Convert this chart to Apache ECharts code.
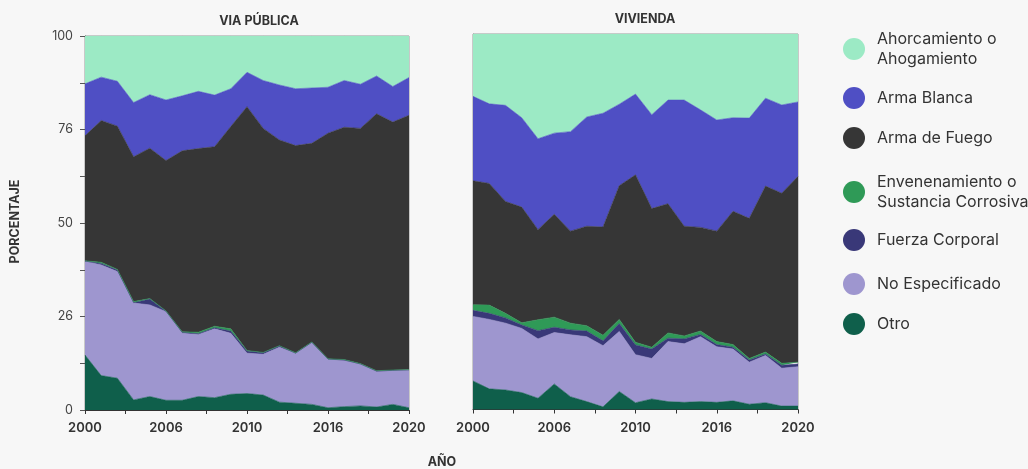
<!DOCTYPE html>
<html>
<head>
<meta charset="utf-8">
<script src="https://cdn.jsdelivr.net/npm/echarts@6/dist/echarts.min.js"></script>
<style>
html,body{margin:0;padding:0;background:#f7f7f7;}
#c{width:1028px;height:469px;}
</style>
</head>
<body>
<div id="c"></div>
<script>
// ---------- DATA ----------
var years = [2000,2001,2002,2003,2004,2005,2006,2007,2008,2009,2010,2011,2012,2013,2014,2015,2016,2017,2018,2019,2020];
var xTickLabels = ['2000','2006','2010','2016','2020'];
var yTickLabels = ['0','26','50','76','100'];
var panelTitles = ['VIA PÚBLICA','VIVIENDA'];
var seriesNames = ['Otro','No Especificado','Fuerza Corporal','Envenenamiento o Sustancia Corrosiva','Arma de Fuego','Arma Blanca','Ahorcamiento o Ahogamiento'];
var legendOrder = ['Ahorcamiento o Ahogamiento','Arma Blanca','Arma de Fuego','Envenenamiento o Sustancia Corrosiva','Fuerza Corporal','No Especificado','Otro'];

// VIA PÚBLICA (percent)
var viaOtro     = [14.7,9.2,8.5,2.7,3.6,2.6,2.6,3.6,3.3,4.2,4.4,4.0,2.1,1.8,1.5,0.6,0.9,1.1,0.8,1.5,0.6];
var viaNoEsp    = [25.1,29.6,28.5,25.9,24.5,23.7,17.9,16.6,18.4,16.3,10.8,10.9,14.7,13.3,16.5,12.9,12.3,11.1,9.5,9.0,10.0];
var viaFuerza   = [0.0,0.4,0.4,0.1,1.6,0.1,0.3,0.2,0.3,0.6,0.6,0.4,0.3,0.1,0.1,0.1,0.2,0.1,0.1,0.1,0.1];
var viaEnven    = [0.1,0.3,0.2,0.3,0.1,0.1,0.1,0.4,0.4,0.6,0.1,0.1,0.1,0.1,0.1,0.1,0.1,0.1,0.1,0.1,0.1];
var viaFuego    = [33.4,37.9,38.3,38.7,40.2,40.2,48.4,49.1,48.0,54.1,65.2,59.9,55.0,55.4,53.1,60.3,62.1,62.9,68.7,66.3,68.0];
var viaBlanca   = [13.9,11.6,12.0,14.5,14.3,16.2,14.7,15.3,13.8,10.1,9.2,12.8,14.7,15.2,14.8,12.3,12.5,11.8,10.1,9.5,10.1];
var viaAhorc    = [12.8,11.0,12.1,17.8,15.7,17.1,16.0,14.8,15.8,14.1,9.7,11.9,13.1,14.1,13.9,13.7,11.9,12.9,10.7,13.5,11.1];

// VIVIENDA (percent)
var vivOtro     = [7.6,5.5,5.2,4.5,3.0,6.8,3.4,2.1,0.7,4.8,1.8,2.8,2.1,1.9,2.1,1.9,2.3,1.4,1.8,0.9,0.9];
var vivNoEsp    = [17.2,18.5,17.8,17.1,15.8,13.7,16.5,17.3,16.3,16.0,12.8,10.8,16.0,15.6,17.3,14.8,13.8,11.2,12.6,10.1,10.5];
var vivFuerza   = [1.6,1.6,1.4,0.9,2.2,1.4,1.3,1.5,1.3,2.1,2.6,2.5,0.9,1.3,0.6,0.6,0.5,0.6,0.4,0.8,0.7];
var vivEnven    = [1.5,2.2,1.2,0.6,2.9,2.7,1.8,1.4,1.5,1.1,0.7,0.5,1.4,0.8,0.9,0.8,0.7,0.4,0.5,0.5,0.5];
var vivFuego    = [33.0,32.4,29.8,30.8,24.0,27.4,24.5,26.5,28.8,35.6,44.6,36.9,34.4,29.2,27.6,29.4,35.5,37.3,44.2,45.3,49.5];
var vivBlanca   = [22.5,21.2,25.6,23.8,24.2,21.6,26.5,29.1,30.3,21.7,21.5,25.0,27.6,33.6,31.3,29.6,24.9,26.7,23.4,23.5,19.8];
var vivAhorc    = [16.6,18.6,19.0,22.3,27.9,26.4,26.0,22.1,21.1,18.7,16.0,21.5,17.6,17.6,20.2,22.9,22.3,22.4,17.1,18.9,18.1];

var colors = {
  'Otro':'#0f5f4b',
  'No Especificado':'#9e96cf',
  'Fuerza Corporal':'#393878',
  'Envenenamiento o Sustancia Corrosiva':'#2f9a57',
  'Arma de Fuego':'#363636',
  'Arma Blanca':'#4f4fc4',
  'Ahorcamiento o Ahogamiento':'#9ceac5'
};

var viaData = [viaOtro, viaNoEsp, viaFuerza, viaEnven, viaFuego, viaBlanca, viaAhorc];
var vivData = [vivOtro, vivNoEsp, vivFuerza, vivEnven, vivFuego, vivBlanca, vivAhorc];

// ---------- CHART ----------
var FONT = 'Inter';
var chart = echarts.init(document.getElementById('c'));

// value first, year second -> stacking happens on the value (y) dimension
function pairs(arr){ return years.map(function(y,i){ return [arr[i], y]; }); }

function makeSeries(dataSets, idx, stack){
  return dataSets.map(function(arr, k){
    var nm = seriesNames[k];
    return {
      name: nm, type: 'line', stack: stack,
      xAxisIndex: idx, yAxisIndex: idx,
      data: pairs(arr),
      encode: { x: 1, y: 0 },
      symbol: 'none', showSymbol: false,
      lineStyle: { width: 0.6, color: colors[nm] },
      itemStyle: { color: colors[nm] },
      areaStyle: { color: colors[nm], opacity: 1 },
      emphasis: { disabled: true },
      z: 2
    };
  });
}

function xAxisCfg(idx){
  return {
    type: 'value', gridIndex: idx, min: 2000, max: 2020, interval: 2.5,
    axisLine: { show: true, lineStyle: { color: '#333', width: 1 } },
    axisTick: { show: true, length: 4, lineStyle: { color: '#333' } },
    splitLine: { show: false },
    axisLabel: {
      margin: 12, fontFamily: FONT, fontSize: 13, fontWeight: 600, color: '#333',
      showMinLabel: true, showMaxLabel: true, hideOverlap: false,
      formatter: function(v){
        var d = v - 2000;
        if (Math.abs(d % 5) < 1e-6) { return xTickLabels[Math.round(d/5)]; }
        return '';
      }
    }
  };
}

var legendCenters = [47, 98, 138, 190, 240, 284, 324];
var legends = legendOrder.map(function(nm, i){
  var twoLine = nm.indexOf(' o ') > 0;
  return {
    orient: 'vertical', left: 843, top: legendCenters[i] - (twoLine ? 18 : 11),
    icon: 'circle', itemWidth: 22, itemHeight: 22, itemGap: 0, padding: 0,
    data: [nm],
    selectedMode: false,
    textStyle: { fontFamily: FONT, fontSize: 16, color: '#333', lineHeight: 20, padding: [0,0,0,7] },
    formatter: function(name){
      if (name === 'Ahorcamiento o Ahogamiento') return 'Ahorcamiento o\nAhogamiento';
      if (name === 'Envenenamiento o Sustancia Corrosiva') return 'Envenenamiento o\nSustancia Corrosiva';
      return name;
    }
  };
});

var option = {
  backgroundColor: '#f7f7f7',
  animation: false,
  textStyle: { fontFamily: FONT },
  grid: [
    { left: 85, top: 36, width: 324, height: 374, show: true, borderColor: '#9a9a9a', borderWidth: 1, backgroundColor: 'transparent', z: 0 },
    { left: 473, top: 34, width: 325, height: 375.5, show: true, borderColor: '#9a9a9a', borderWidth: 1, backgroundColor: 'transparent', z: 0 }
  ],
  xAxis: [ xAxisCfg(0), xAxisCfg(1) ],
  yAxis: [
    {
      type: 'value', gridIndex: 0, min: 0, max: 100, interval: 12.5,
      axisLine: { show: true, lineStyle: { color: '#555' } },
      axisTick: { show: true, length: 5, lineStyle: { color: '#555' } },
      splitLine: { show: false },
      axisLabel: {
        margin: 12, fontFamily: FONT, fontSize: 12.5, color: '#444',
        formatter: function(v){
          if (Math.abs(v % 25) < 1e-6) { return yTickLabels[Math.round(v/25)]; }
          return '';
        }
      }
    },
    {
      type: 'value', gridIndex: 1, min: 0, max: 100, interval: 12.5,
      axisLine: { show: true, lineStyle: { color: '#9a9a9a' } },
      axisTick: { show: false },
      splitLine: { show: false },
      axisLabel: { show: false }
    }
  ],
  legend: legends,
  graphic: [
    { type: 'text', x: 259, y: 21.5, style: { text: panelTitles[0], fontFamily: FONT, fontSize: 12.5, fontWeight: 'bold', fill: '#333', textAlign: 'center', textVerticalAlign: 'middle' } },
    { type: 'text', x: 645, y: 19, style: { text: panelTitles[1], fontFamily: FONT, fontSize: 12.5, fontWeight: 'bold', fill: '#333', textAlign: 'center', textVerticalAlign: 'middle' } },
    { type: 'text', x: 15.5, y: 221.5, rotation: Math.PI/2, style: { text: 'PORCENTAJE', fontFamily: FONT, fontSize: 12.5, fontWeight: 'bold', fill: '#333', textAlign: 'center', textVerticalAlign: 'middle' } },
    { type: 'text', x: 442, y: 462, style: { text: 'AÑO', fontFamily: FONT, fontSize: 12.5, fontWeight: 'bold', fill: '#333', textAlign: 'center', textVerticalAlign: 'middle' } }
  ],
  series: makeSeries(viaData, 0, 'via').concat(makeSeries(vivData, 1, 'viv'))
};
chart.setOption(option);
</script>
</body>
</html>
